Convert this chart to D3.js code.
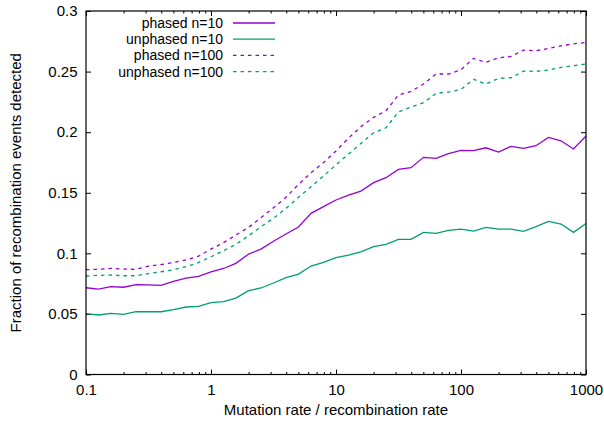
<!DOCTYPE html>
<html>
<head>
<meta charset="utf-8">
<script src="https://cdn.jsdelivr.net/npm/d3@7"></script>
<style>
    body { margin: 0; background: #fff; }
    svg { display: block; font-family: "Liberation Sans", Arial, sans-serif; }
</style>
</head>
<body>
<svg id="chart" width="604" height="422"></svg>
<script>
// mutation / recombination rate (10 points per decade)
let rates = [0.1, 0.126, 0.158, 0.2, 0.251, 0.316, 0.398, 0.501, 0.631, 0.794,
    1, 1.26, 1.58, 2, 2.51, 3.16, 3.98, 5.01, 6.31, 7.94,
    10, 12.6, 15.8, 20, 25.1, 31.6, 39.8, 50.1, 63.1, 79.4,
    100, 126, 158, 200, 251, 316, 398, 501, 631, 794, 1000];

let phased10 = [0.0716, 0.0705, 0.0725, 0.072, 0.0741, 0.074, 0.0736, 0.0769, 0.0796, 0.081,
    0.0846, 0.0875, 0.0917, 0.0994, 0.1035, 0.110, 0.116, 0.1217, 0.133, 0.1385,
    0.144, 0.1481, 0.1514, 0.1583, 0.1624, 0.1693, 0.1707, 0.1792, 0.1784, 0.1822,
    0.185, 0.1847, 0.1871, 0.1836, 0.1883, 0.1866, 0.1888, 0.1957, 0.1929, 0.1861, 0.1968];

let unphased10 = [0.0502, 0.0491, 0.0505, 0.0497, 0.0518, 0.0518, 0.0518, 0.0535, 0.0557, 0.0563,
    0.0593, 0.0601, 0.0631, 0.0692, 0.0714, 0.0755, 0.0799, 0.0829, 0.0895, 0.0926,
    0.0965, 0.0986, 0.1013, 0.1055, 0.1074, 0.1115, 0.1115, 0.1173, 0.1165, 0.119,
    0.12, 0.1184, 0.1214, 0.12, 0.12, 0.1181, 0.122, 0.1264, 0.1242, 0.1173, 0.1247];

let phased100 = [0.0865, 0.0868, 0.0876, 0.087, 0.0868, 0.0895, 0.0907, 0.0924, 0.0946, 0.0976,
    0.1035, 0.1088, 0.1151, 0.1214, 0.1294, 0.1376, 0.1462, 0.1569, 0.1665, 0.1748,
    0.1845, 0.1951, 0.2045, 0.2122, 0.2177, 0.2306, 0.2337, 0.2397, 0.248, 0.248,
    0.2515, 0.2609, 0.2576, 0.2614, 0.2625, 0.2677, 0.2672, 0.2691, 0.2713, 0.2729, 0.274];

let unphased100 = [0.0813, 0.0818, 0.0821, 0.0815, 0.0815, 0.0833, 0.0848, 0.0865, 0.089, 0.0924,
    0.0972, 0.1022, 0.1074, 0.1145, 0.122, 0.1289, 0.1371, 0.1462, 0.155, 0.1638,
    0.173, 0.1819, 0.1907, 0.1995, 0.2036, 0.2168, 0.2207, 0.2243, 0.232, 0.2331,
    0.2353, 0.2436, 0.2397, 0.2444, 0.2449, 0.2504, 0.2502, 0.2512, 0.2535, 0.2548, 0.2562];

let xTicks = [0.1, 1, 10, 100, 1000];
let yTicks = [0, 0.05, 0.1, 0.15, 0.2, 0.25, 0.3];

let series = [
    {name: "phased n=10", values: phased10, color: "#9400d3", dash: null},
    {name: "unphased n=10", values: unphased10, color: "#009e73", dash: null},
    {name: "phased n=100", values: phased100, color: "#9400d3", dash: "3.5,4"},
    {name: "unphased n=100", values: unphased100, color: "#009e73", dash: "3.5,4"}
];

let margin = {top: 11, right: 18, bottom: 47.5, left: 86};
let svg = d3.select("#chart");
let width = +svg.attr("width") - margin.left - margin.right;
let height = +svg.attr("height") - margin.top - margin.bottom;
let fontSize = 15;

let g = svg.append("g")
    .attr("transform", "translate(" + margin.left + "," + margin.top + ")");

let x = d3.scaleLog().domain([0.1, 1000]).range([0, width]);
let y = d3.scaleLinear().domain([0, 0.3]).range([height, 0]);

// minor ticks 2..9 in each decade
let minor = [];
xTicks.slice(0, -1).forEach(function (d) {
    for (let m = 2; m < 10; m++) minor.push(d * m);
});

function styleAxis(sel) {
    sel.select(".domain").remove();
    sel.selectAll("line").attr("stroke", "#000");
    sel.selectAll("text")
        .attr("fill", "#000")
        .style("font-size", fontSize + "px")
        .style("font-family", "\"Liberation Sans\", Arial, sans-serif");
}

let fmtX = function (d) { return String(d); };
let fmtY = function (d) { return d === 0 ? "0" : d3.format(".2~f")(d); };

// bottom
g.append("g").attr("transform", "translate(0," + height + ")")
    .call(d3.axisBottom(x).tickValues(xTicks).tickFormat(fmtX).tickSize(-5).tickPadding(10))
    .call(styleAxis);
g.append("g").attr("transform", "translate(0," + height + ")")
    .call(d3.axisBottom(x).tickValues(minor).tickFormat("").tickSize(-2.5))
    .call(styleAxis);
// top mirror
g.append("g")
    .call(d3.axisTop(x).tickValues(xTicks).tickFormat("").tickSize(-5))
    .call(styleAxis);
g.append("g")
    .call(d3.axisTop(x).tickValues(minor).tickFormat("").tickSize(-2.5))
    .call(styleAxis);
// left
g.append("g")
    .call(d3.axisLeft(y).tickValues(yTicks).tickFormat(fmtY).tickSize(-5).tickPadding(8.5))
    .call(styleAxis);
// right mirror
g.append("g").attr("transform", "translate(" + width + ",0)")
    .call(d3.axisRight(y).tickValues(yTicks).tickFormat("").tickSize(-5))
    .call(styleAxis);

let line = d3.line()
    .x(function (d, i) { return x(rates[i]); })
    .y(function (d) { return y(d); });

let lines = g.append("g").attr("id", "lines");
series.forEach(function (s) {
    lines.append("path")
        .datum(s.values)
        .attr("fill", "none")
        .attr("stroke", s.color)
        .attr("stroke-width", 1.3)
        .attr("stroke-dasharray", s.dash)
        .attr("d", line);
});

// frame
g.append("rect")
    .attr("width", width)
    .attr("height", height)
    .attr("fill", "none")
    .attr("stroke", "#000")
    .attr("stroke-width", 1.2);

// legend (a bit tighter font so rows don't collide)
let legend = svg.append("g").attr("id", "legend");
series.forEach(function (s, i) {
    let ly = 23 + i * 16.2;
    legend.append("text")
        .attr("x", 223)
        .attr("y", ly)
        .attr("dy", "0.35em")
        .attr("text-anchor", "end")
        .style("font-size", "14px")
        .text(s.name);
    legend.append("line")
        .attr("x1", 233).attr("x2", 275)
        .attr("y1", ly).attr("y2", ly)
        .attr("stroke", s.color)
        .attr("stroke-width", 1.3)
        .attr("stroke-dasharray", s.dash);
});

// axis titles
svg.append("text")
    .attr("x", margin.left + width / 2)
    .attr("y", 415)
    .attr("text-anchor", "middle")
    .style("font-size", fontSize + "px")
    .text("Mutation rate / recombination rate");

svg.append("text")
    .attr("transform", "translate(21," + (margin.top + height / 2) + ") rotate(-90)")
    .attr("text-anchor", "middle")
    .style("font-size", fontSize + "px")
    .text("Fraction of recombination events detected");
</script>
</body>
</html>
